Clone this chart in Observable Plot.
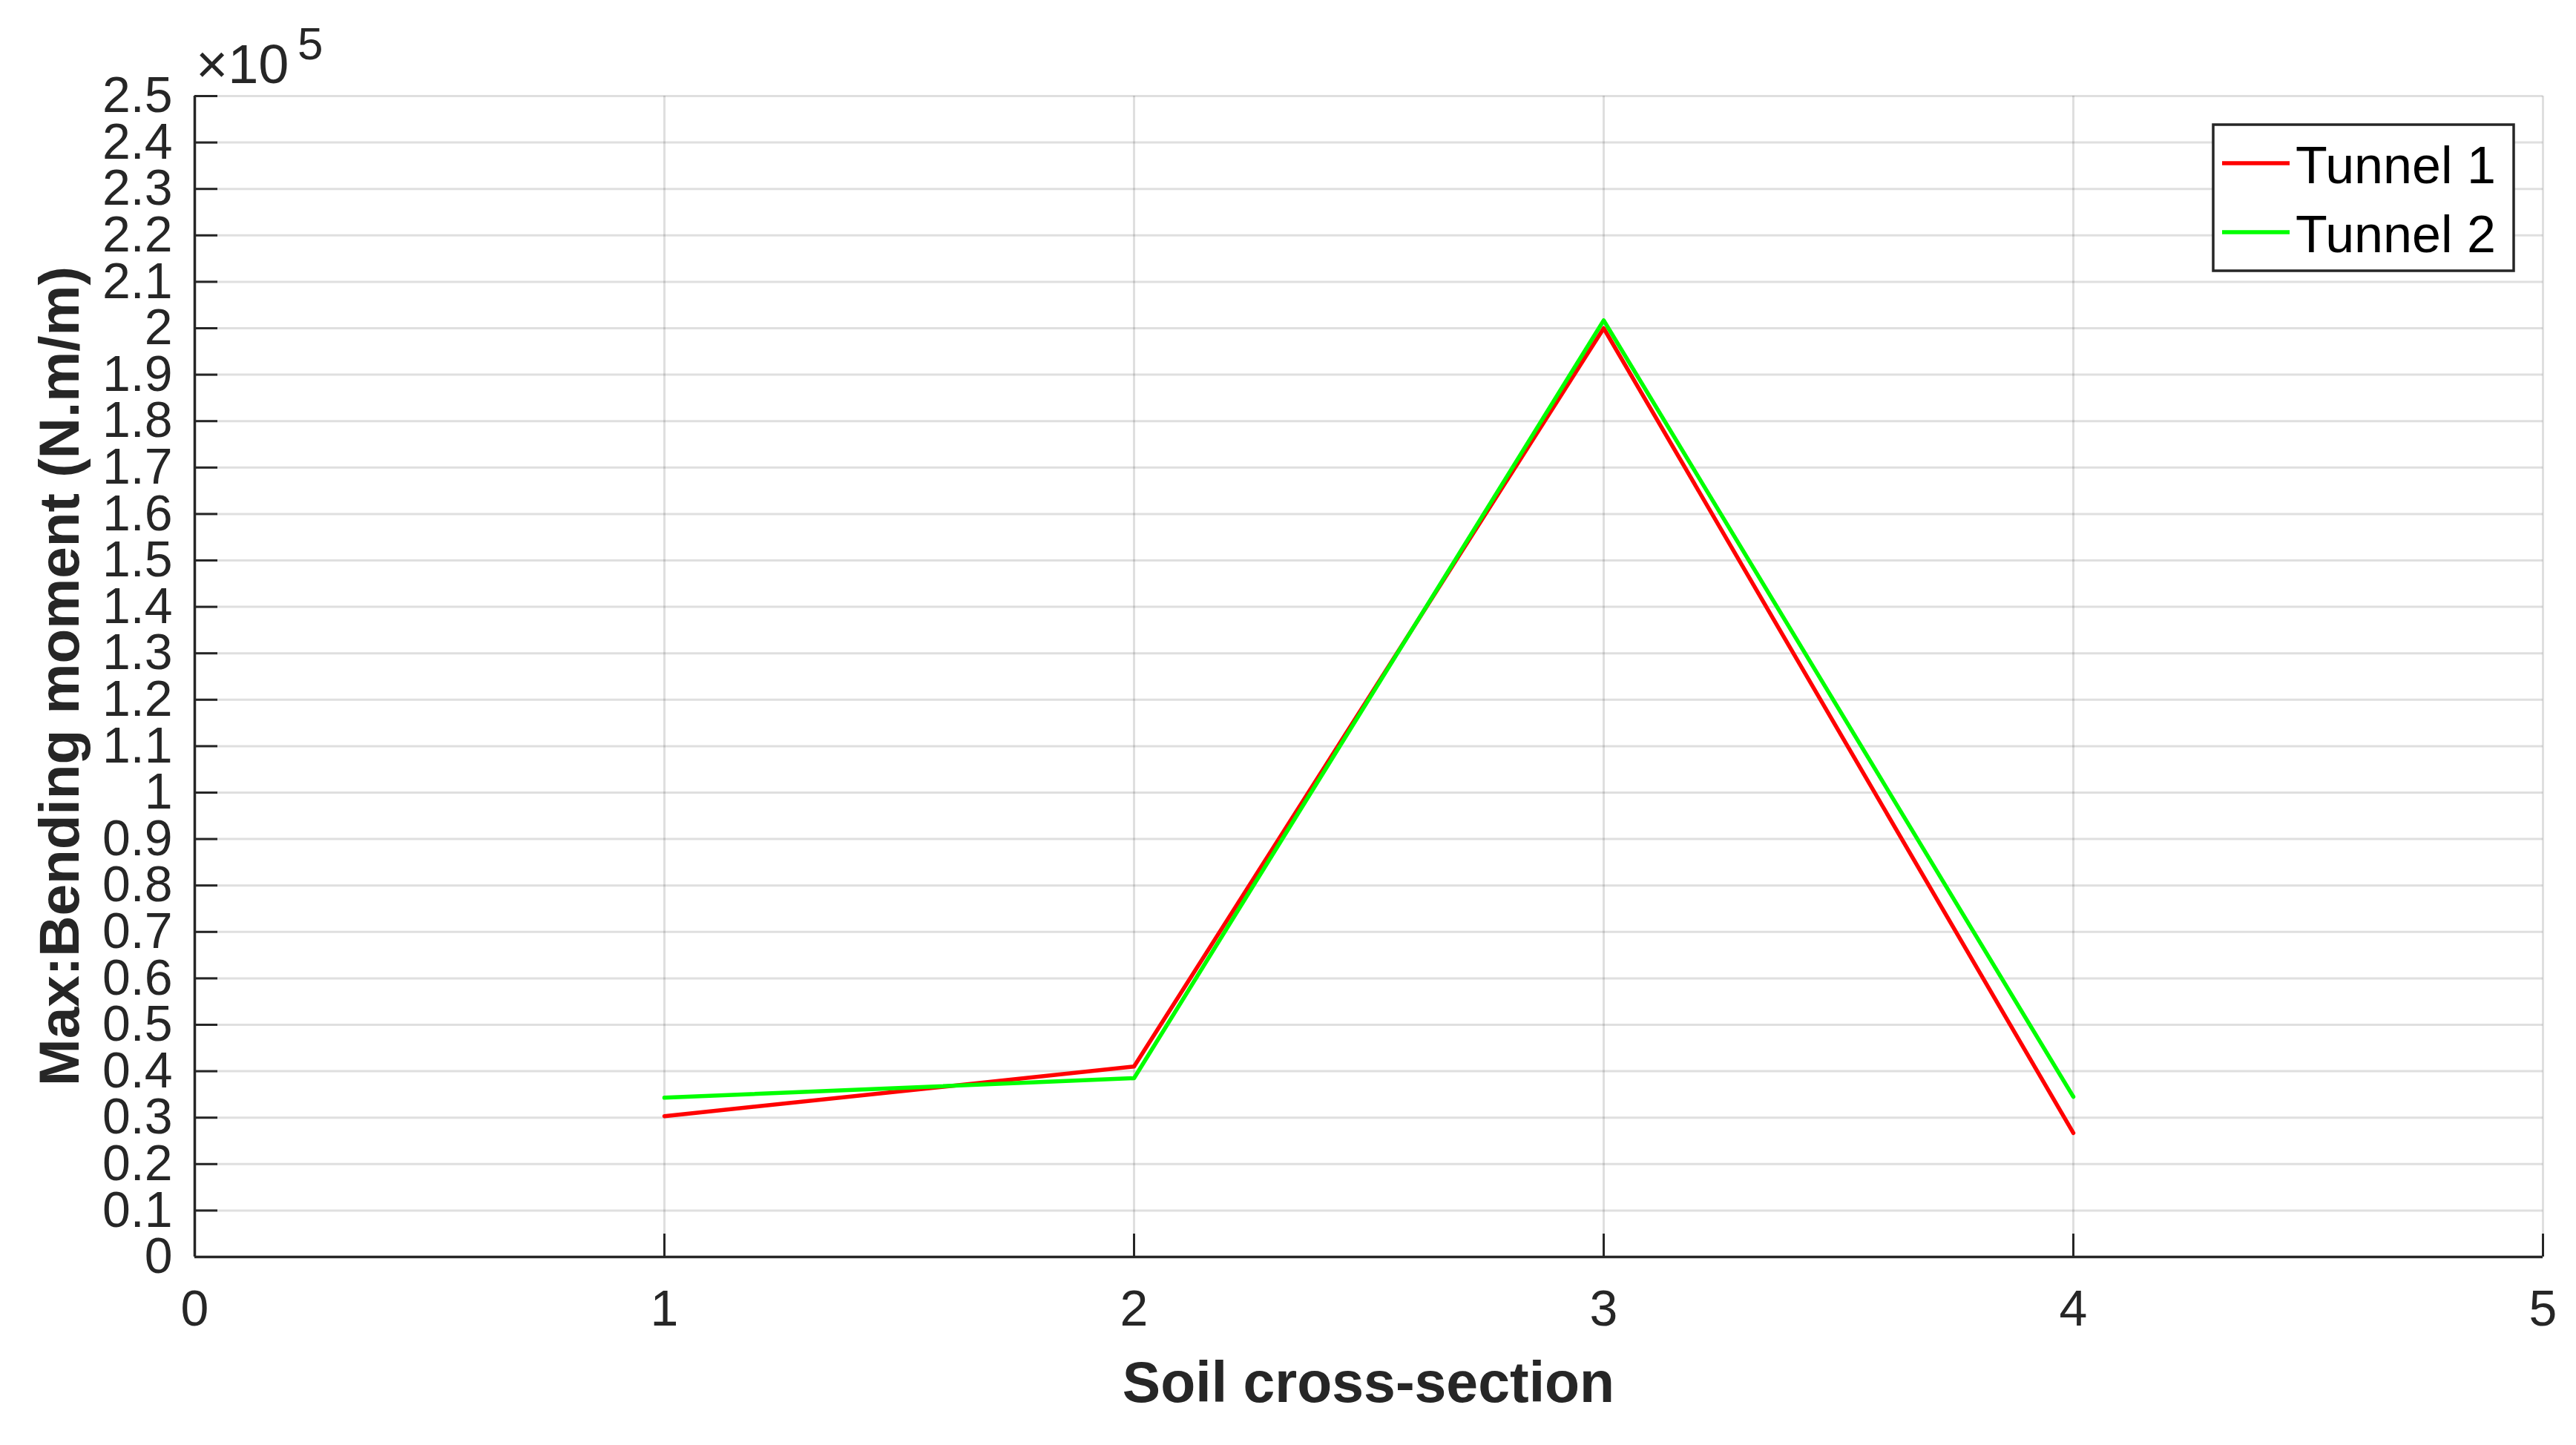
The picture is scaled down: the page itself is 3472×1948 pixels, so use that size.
<!DOCTYPE html>
<html>
<head>
<meta charset="utf-8">
<script src="https://cdn.jsdelivr.net/npm/d3@7"></script>
<script src="https://cdn.jsdelivr.net/npm/@observablehq/plot@0.6"></script>
<style>
  html, body { margin: 0; padding: 0; background: #ffffff; }
  #chart { position: relative; width: 3472px; height: 1948px; }
</style>
</head>
<body>
<div id="chart"></div>
<script>
// ---- data ----
const sections = [1, 2, 3, 4];
const tunnel1 = [30300, 41000, 200000, 26700];
const tunnel2 = [34300, 38500, 201700, 34500];
const seriesNames = ["Tunnel 1", "Tunnel 2"];
const seriesColors = ["#ff0000", "#00ff00"];

const xTickValues = [0, 1, 2, 3, 4, 5];
const xTickLabels = ["0", "1", "2", "3", "4", "5"];
const yTickValues = [0, 10000, 20000, 30000, 40000, 50000, 60000, 70000, 80000, 90000,
  100000, 110000, 120000, 130000, 140000, 150000, 160000, 170000, 180000, 190000,
  200000, 210000, 220000, 230000, 240000, 250000];
const yTickLabels = ["0", "0.1", "0.2", "0.3", "0.4", "0.5", "0.6", "0.7", "0.8", "0.9",
  "1", "1.1", "1.2", "1.3", "1.4", "1.5", "1.6", "1.7", "1.8", "1.9",
  "2", "2.1", "2.2", "2.3", "2.4", "2.5"];

const xLabel = "Soil cross-section";
const yLabel = "Max:Bending moment (N.m/m)";

// ---- layout ----
const W = 3472, H = 1948;
const mL = 262, mR = 45, mT = 129, mB = 254;
const axisColor = "#262626";
const tickLen = 31;
const xDomain = [0, 5], yDomain = [0, 250000];

const rows = [];
sections.forEach((s, i) => {
  rows.push({x: s, y: tunnel1[i], series: seriesNames[0]});
  rows.push({x: s, y: tunnel2[i], series: seriesNames[1]});
});

const xMap = new Map(xTickValues.map((v, i) => [v, xTickLabels[i]]));
const yMap = new Map(yTickValues.map((v, i) => [v, yTickLabels[i]]));

const xTickData = tickLen / (W - mL - mR) * (xDomain[1] - xDomain[0]);
const yTickData = tickLen / (H - mT - mB) * (yDomain[1] - yDomain[0]);

const gridStyle = {stroke: axisColor, strokeOpacity: 0.15, strokeWidth: 3};

const svg = Plot.plot({
  width: W, height: H,
  marginLeft: mL, marginRight: mR, marginTop: mT, marginBottom: mB,
  style: {fontFamily: "'Liberation Sans', Arial, sans-serif", background: "#ffffff", color: axisColor},
  x: {domain: xDomain},
  y: {domain: yDomain},
  marks: [
    Plot.ruleX(xTickValues, {x: d => d, ...gridStyle}),
    Plot.ruleY(yTickValues, {y: d => d, ...gridStyle}),
    Plot.line(rows.filter(r => r.series === seriesNames[0]), {x: "x", y: "y", stroke: seriesColors[0], strokeWidth: 5.5}),
    Plot.line(rows.filter(r => r.series === seriesNames[1]), {x: "x", y: "y", stroke: seriesColors[1], strokeWidth: 5.5}),
    Plot.ruleY(yTickValues, {y: d => d, x1: xDomain[0], x2: xDomain[0] + xTickData, stroke: axisColor, strokeWidth: 3}),
    Plot.ruleX(xTickValues, {x: d => d, y1: yDomain[0], y2: yDomain[0] + yTickData, stroke: axisColor, strokeWidth: 3}),
    Plot.ruleX([xDomain[0]], {stroke: axisColor, strokeWidth: 3.5}),
    Plot.ruleY([yDomain[0]], {stroke: axisColor, strokeWidth: 3.5}),
    Plot.axisX(xTickValues, {tickSize: 0, tickPadding: 44, fontSize: 68, label: null, tickFormat: d => xMap.get(d), fill: axisColor}),
    Plot.axisY(yTickValues, {tickSize: 0, tickPadding: 30, fontSize: 68, label: null, tickFormat: d => yMap.get(d), fill: axisColor})
  ]
});

document.getElementById("chart").appendChild(svg);

const s = d3.select(svg);
const font = "'Liberation Sans', Arial, sans-serif";

// axis titles
s.append("text")
  .attr("x", (mL + (W - mR)) / 2).attr("y", 1890)
  .attr("text-anchor", "middle")
  .attr("font-family", font).attr("font-weight", "bold").attr("font-size", 77)
  .attr("fill", axisColor)
  .text(xLabel);

s.append("text")
  .attr("transform", `translate(106, ${(mT + (H - mB)) / 2}) rotate(-90)`)
  .attr("text-anchor", "middle")
  .attr("font-family", font).attr("font-weight", "bold").attr("font-size", 76.5)
  .attr("fill", axisColor)
  .text(yLabel);

// exponent
s.append("text")
  .attr("x", 264).attr("y", 112)
  .attr("text-anchor", "start")
  .attr("font-family", font).attr("font-size", 74)
  .attr("fill", axisColor)
  .text("\u00d710");
s.append("text")
  .attr("x", 401).attr("y", 80)
  .attr("text-anchor", "start")
  .attr("font-family", font).attr("font-size", 62)
  .attr("fill", axisColor)
  .text("5");

// legend
const lg = s.append("g");
lg.append("rect")
  .attr("x", 2983).attr("y", 168).attr("width", 405).attr("height", 197)
  .attr("fill", "#ffffff").attr("stroke", axisColor).attr("stroke-width", 3.5);
seriesNames.forEach((name, i) => {
  const cy = 220 + i * 93;
  lg.append("line")
    .attr("x1", 2995).attr("x2", 3086).attr("y1", cy).attr("y2", cy)
    .attr("stroke", seriesColors[i]).attr("stroke-width", 5.5);
  lg.append("text")
    .attr("x", 3094).attr("y", cy + 27)
    .attr("text-anchor", "start")
    .attr("font-family", font).attr("font-size", 70)
    .attr("fill", "#000000")
    .text(name);
});
</script>
</body>
</html>
